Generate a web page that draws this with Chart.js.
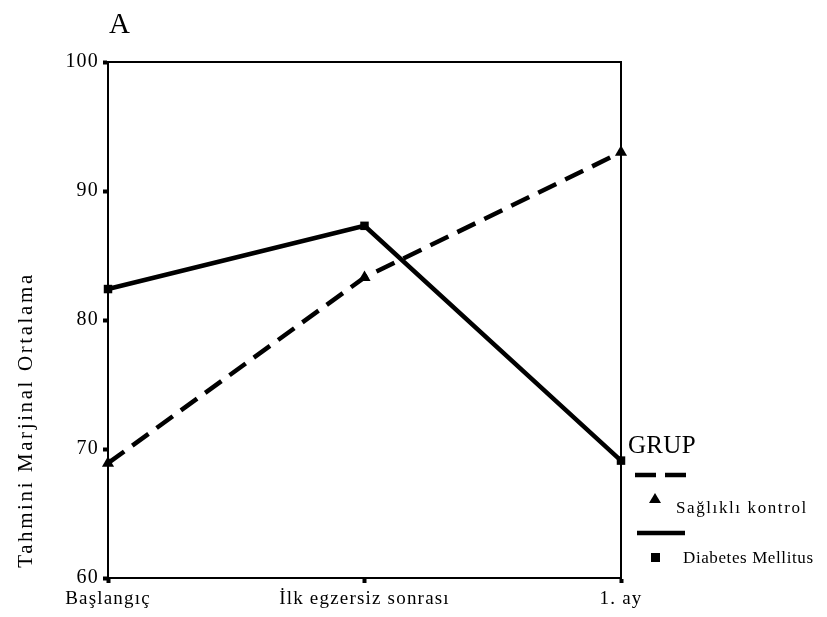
<!DOCTYPE html>
<html>
<head>
<meta charset="utf-8">
<script src="https://cdn.jsdelivr.net/npm/chart.js@4.4.1/dist/chart.umd.min.js"></script>
<style>
    body { margin: 0; background: #fff; }
    .wrap { width: 827px; height: 617px; position: relative; }
</style>
</head>
<body>
<div class="wrap"><canvas id="chart"></canvas></div>
<script>
const categories = ["Başlangıç", "İlk egzersiz sonrası", "1. ay"];
const saglikli = [68.9, 83.3, 93.0];
const diabetes = [82.4, 87.3, 69.1];
const yTicks = [60, 70, 80, 90, 100];
const groupTitle = "GRUP";
const seriesNames = ["Sağlıklı kontrol", "Diabetes Mellitus"];
const yTitle = "Tahmini Marjinal Ortalama";
const panelLabel = "A";

const serif = "'Liberation Serif', 'DejaVu Serif', serif";

// frame, spacing and the hand placed legend
const extras = {
    id: "extras",
    beforeDraw(chart) {
        chart.ctx.letterSpacing = "1.2px";
    },
    afterDraw(chart) {
        const ctx = chart.ctx;
        const a = chart.chartArea;
        ctx.save();
        ctx.strokeStyle = "#000";
        ctx.lineWidth = 2;
        ctx.beginPath();
        ctx.moveTo(a.left, a.top);
        ctx.lineTo(a.right, a.top);
        ctx.lineTo(a.right, a.bottom);
        ctx.stroke();

        ctx.fillStyle = "#000";
        ctx.letterSpacing = "0px";
        ctx.font = "29px " + serif;
        ctx.textAlign = "left";
        ctx.textBaseline = "alphabetic";
        ctx.fillText(panelLabel, 109, 33);

        // y title
        ctx.save();
        ctx.translate(26, 420);
        ctx.rotate(-Math.PI / 2);
        ctx.letterSpacing = "2.6px";
        ctx.font = "21px " + serif;
        ctx.textAlign = "center";
        ctx.textBaseline = "middle";
        ctx.fillText(yTitle, 0, 0);
        ctx.restore();

        // legend
        ctx.letterSpacing = "0.3px";
        ctx.font = "25px " + serif;
        ctx.fillText(groupTitle, 628, 453);

        ctx.lineWidth = 4.5;
        ctx.setLineDash([21, 9]);
        ctx.beginPath();
        ctx.moveTo(635, 475);
        ctx.lineTo(686, 475);
        ctx.stroke();
        ctx.setLineDash([]);
        ctx.beginPath();
        ctx.moveTo(637, 533);
        ctx.lineTo(685, 533);
        ctx.stroke();

        ctx.beginPath();
        ctx.moveTo(655, 493);
        ctx.lineTo(661, 503);
        ctx.lineTo(649, 503);
        ctx.closePath();
        ctx.fill();
        ctx.fillRect(651, 553, 9, 9);

        ctx.font = "17px " + serif;
        ctx.textBaseline = "middle";
        ctx.letterSpacing = "1.6px";
        ctx.fillText(seriesNames[0], 676, 509);
        ctx.letterSpacing = "0.6px";
        ctx.fillText(seriesNames[1], 683, 559);
        ctx.restore();
    }
};

new Chart(document.getElementById("chart"), {
    type: "line",
    data: {
        labels: categories,
        datasets: [{
            label: seriesNames[0],
            data: saglikli,
            borderColor: "#000",
            backgroundColor: "#000",
            borderWidth: 4.5,
            borderDash: [20, 10],
            pointStyle: "triangle",
            pointRadius: 7,
            pointBorderWidth: 0,
            tension: 0
        },
        {
            label: seriesNames[1],
            data: diabetes,
            borderColor: "#000",
            backgroundColor: "#000",
            borderWidth: 4.5,
            pointStyle: "rect",
            pointRadius: 6,
            pointBorderWidth: 0,
            tension: 0
        }]
    },
    options: {
        responsive: true,
        maintainAspectRatio: false,
        animation: false,
        layout: {
            padding: {top: 62, right: 206, bottom: 0, left: 0}
        },
        plugins: {
            legend: {display: false},
            tooltip: {enabled: false}
        },
        scales: {
            x: {
                offset: false,
                grid: {
                    offset: false,
                    drawOnChartArea: false,
                    tickLength: 5,
                    tickWidth: 4,
                    tickColor: "#000"
                },
                border: {color: "#000", width: 2},
                ticks: {
                    color: "#000",
                    padding: 5,
                    maxRotation: 0,
                    autoSkip: false,
                    font: {family: serif, size: 19}
                },
                afterFit: (scale) => { scale.height = 39; }
            },
            y: {
                min: 60,
                max: 100,
                afterBuildTicks: (scale) => { scale.ticks = yTicks.map(v => ({value: v})); },
                grid: {
                    drawOnChartArea: false,
                    tickLength: 5,
                    tickWidth: 4,
                    tickColor: "#000"
                },
                border: {color: "#000", width: 2},
                ticks: {
                    color: "#000",
                    padding: 4,
                    font: {family: serif, size: 20}
                },
                afterFit: (scale) => { scale.width = 108; }
            }
        }
    },
    plugins: [extras]
});
</script>
</body>
</html>
